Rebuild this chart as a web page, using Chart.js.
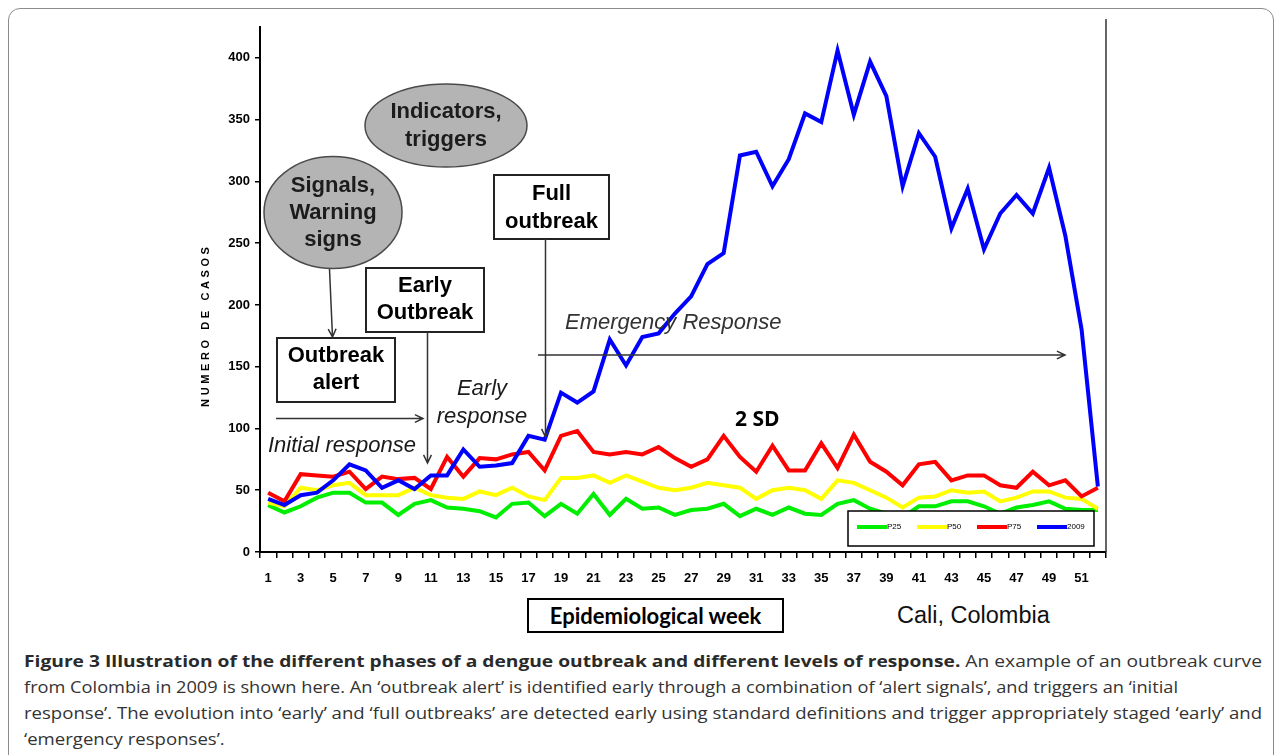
<!DOCTYPE html>
<html>
<head>
<meta charset="utf-8">
<title>Dengue outbreak phases - Cali, Colombia 2009</title>
<script src="https://cdn.jsdelivr.net/npm/chart.js@4.4.0/dist/chart.umd.min.js"></script>
<style>
    html, body { margin: 0; padding: 0; background: #fff; }
    body { width: 1282px; height: 755px; position: relative; overflow: hidden; font-family: 'Liberation Sans', Arial, sans-serif; }
    #frame { position: absolute; left: 8px; top: 8px; width: 1264px; height: 820px; border: 1px solid #8c8c8c; border-radius: 12px; }
    #chart-wrap { position: absolute; left: 0; top: 0; width: 1282px; height: 590px; }
    #x-title { position: absolute; left: 527px; top: 598px; width: 253px; height: 31px; border: 2px solid #000;
               font: bold 22px Lato, sans-serif; text-align: center; line-height: 31px; color: #000; }
    #place { position: absolute; left: 897px; top: 602px; font: 23.5px 'Liberation Sans', Arial, sans-serif; color: #111; }
    #caption { position: absolute; left: 24px; top: 648px; width: 1250px; font: 16.5px 'Open Sans', sans-serif; line-height: 26px; color: #333; }
    #caption .ln { height: 26px; white-space: nowrap; }
    #caption .ln span { display: inline-block; transform-origin: 0 50%; }
    #caption b { color: #2a2a2a; }
</style>
</head>
<body>
<div id="frame"></div>
<div id="chart-wrap"><canvas id="outbreak-chart" width="1282" height="590"></canvas></div>
<div id="x-title">Epidemiological week</div>
<div id="place">Cali, Colombia</div>
<div id="caption">
    <div class="ln"><span><b>Figure 3 Illustration of the different phases of a dengue outbreak and different levels of response.</b> An example of an outbreak curve</span></div>
    <div class="ln"><span>from Colombia in 2009 is shown here. An ‘outbreak alert’ is identified early through a combination of ‘alert signals’, and triggers an ‘initial</span></div>
    <div class="ln"><span>response’. The evolution into ‘early’ and ‘full outbreaks’ are detected early using standard definitions and trigger appropriately staged ‘early’ and</span></div>
    <div class="ln"><span>‘emergency responses’.</span></div>
</div>

<script>
// Semaines épidémiologiques
const weeks = ['1','2','3','4','5','6','7','8','9','10','11','12','13','14','15','16','17','18','19','20',
               '21','22','23','24','25','26','27','28','29','30','31','32','33','34','35','36','37','38','39','40',
               '41','42','43','44','45','46','47','48','49','50','51','52'];

// Canal endémique (percentiles)
const p25 = [38, 32, 37, 44, 48, 48, 40, 40, 30, 39, 42, 36, 35, 33, 28, 39, 40, 29, 39, 31,
             47, 30, 43, 35, 36, 30, 34, 35, 39, 29, 35, 30, 36, 31, 30, 39, 42, 35, 31, 28,
             37, 37, 41, 41, 37, 31, 36, 38, 41, 35, 34, 34];
const p50 = [40, 37, 52, 50, 54, 56, 46, 46, 46, 52, 46, 44, 43, 49, 46, 52, 45, 42, 60, 60,
             62, 56, 62, 57, 52, 50, 52, 56, 54, 52, 43, 50, 52, 50, 43, 58, 56, 50, 44, 36,
             44, 45, 50, 48, 49, 41, 44, 49, 49, 44, 43, 35];
const p75 = [48, 41, 63, 62, 61, 65, 51, 61, 59, 60, 51, 77, 61, 76, 75, 79, 81, 66, 94, 98,
             81, 79, 81, 79, 85, 76, 69, 75, 94, 77, 65, 86, 66, 66, 88, 68, 95, 73, 65, 54,
             71, 73, 58, 62, 62, 54, 52, 65, 54, 58, 45, 52];

// Cas observés en 2009
const cases2009 = [43, 38, 46, 48, 58, 71, 66, 52, 58, 51, 62, 62, 83, 69, 70, 72, 94, 91, 129, 121,
                   130, 172, 151, 174, 177, 193, 207, 233, 242, 321, 324, 296, 318, 355, 348, 406, 354, 397, 369, 296,
                   339, 320, 262, 294, 245, 274, 289, 274, 311, 256, 180, 53];

const yTicks = [0, 50, 100, 150, 200, 250, 300, 350, 400];

const seriesStyle = [
    { label: 'P25', data: p25, color: '#00ee00', order: 3 },
    { label: 'P50', data: p50, color: '#ffff00', order: 2 },
    { label: 'P75', data: p75, color: '#ff0000', order: 1 },
    { label: '2009', data: cases2009, color: '#0000ff', order: 0 }
];

// Largeur voulue de chaque ligne de la légende de figure (null = même échelle que la ligne précédente)
const captionWidths = [1238, 1154, 1238, null];

// Petites fonctions de dessin
function arrow(ctx, x1, y1, x2, y2) {
    const a = Math.atan2(y2 - y1, x2 - x1);
    const h = 9;
    ctx.beginPath();
    ctx.moveTo(x1, y1);
    ctx.lineTo(x2, y2);
    ctx.moveTo(x2 - h * Math.cos(a - 0.45), y2 - h * Math.sin(a - 0.45));
    ctx.lineTo(x2, y2);
    ctx.lineTo(x2 - h * Math.cos(a + 0.45), y2 - h * Math.sin(a + 0.45));
    ctx.stroke();
}

function textLines(ctx, lines, cx, ys) {
    ctx.textAlign = 'center';
    ctx.textBaseline = 'middle';
    lines.forEach((t, i) => ctx.fillText(t, cx, ys[i]));
}

function box(ctx, x1, y1, x2, y2, lines, ys) {
    ctx.fillStyle = '#fff';
    ctx.fillRect(x1, y1, x2 - x1, y2 - y1);
    ctx.strokeStyle = '#222';
    ctx.lineWidth = 2;
    ctx.strokeRect(x1, y1, x2 - x1, y2 - y1);
    ctx.fillStyle = '#000';
    ctx.font = 'bold 22px "Liberation Sans", Arial, sans-serif';
    textLines(ctx, lines, (x1 + x2) / 2, ys);
}

function bubble(ctx, cx, cy, rx, ry, lines, ys) {
    ctx.beginPath();
    ctx.ellipse(cx, cy, rx, ry, 0, 0, Math.PI * 2);
    ctx.fillStyle = '#b4b4b4';
    ctx.fill();
    ctx.strokeStyle = '#4a4a4a';
    ctx.lineWidth = 1.5;
    ctx.stroke();
    ctx.fillStyle = '#1c1c1c';
    ctx.font = 'bold 22px "Liberation Sans", Arial, sans-serif';
    textLines(ctx, lines, cx, ys);
}

function spacedVertical(ctx, text, cx, cy, spacing) {
    ctx.save();
    ctx.translate(cx, cy);
    ctx.rotate(-Math.PI / 2);
    const widths = text.split('').map(c => ctx.measureText(c).width);
    const total = widths.reduce((s, w) => s + w, 0) + spacing * (text.length - 1);
    let x = -total / 2;
    ctx.textAlign = 'left';
    ctx.textBaseline = 'middle';
    text.split('').forEach((c, i) => {
        ctx.fillText(c, x, 0);
        x += widths[i] + spacing;
    });
    ctx.restore();
}

// Annotations des phases + légende encadrée
const phasesPlugin = {
    id: 'phases',
    afterDatasetsDraw(chart) {
        const ctx = chart.ctx;
        const area = chart.chartArea;
        ctx.save();

        // bord droit de la zone de tracé
        ctx.strokeStyle = '#333';
        ctx.lineWidth = 1.5;
        ctx.beginPath();
        ctx.moveTo(area.right, area.top - 8);
        ctx.lineTo(area.right, area.bottom);
        ctx.stroke();

        // titre axe Y
        ctx.fillStyle = '#000';
        ctx.font = 'bold 11px "Liberation Sans", Arial, sans-serif';
        spacedVertical(ctx, 'NUMERO DE CASOS', 206, 327, 3.6);

        // bulles
        bubble(ctx, 446, 125.5, 81, 41.5, ['Indicators,', 'triggers'], [112, 140]);
        bubble(ctx, 333, 212.5, 69, 56, ['Signals,', 'Warning', 'signs'], [186, 213, 240]);

        // boîtes
        box(ctx, 277, 338, 395, 402, ['Outbreak', 'alert'], [356, 383]);
        box(ctx, 366, 268, 484, 332, ['Early', 'Outbreak'], [286, 313]);
        box(ctx, 494, 175, 609, 239, ['Full', 'outbreak'], [194, 222]);

        // flèches
        ctx.strokeStyle = '#333';
        ctx.lineWidth = 1.5;
        arrow(ctx, 329.5, 269, 332.5, 337);
        arrow(ctx, 427.5, 332, 427.5, 463);
        arrow(ctx, 545.5, 239, 545.5, 437);
        arrow(ctx, 276, 418.5, 423, 418.5);
        arrow(ctx, 538, 355, 1065, 355);

        // textes des réponses
        ctx.fillStyle = '#1a1a1a';
        ctx.font = 'italic 22px "Liberation Sans", Arial, sans-serif';
        ctx.textAlign = 'left';
        ctx.textBaseline = 'middle';
        ctx.fillText('Initial response', 268, 446);
        ctx.fillStyle = '#333';
        ctx.fillText('Emergency Response', 565, 323);
        ctx.fillStyle = '#1a1a1a';
        textLines(ctx, ['Early', 'response'], 482, [389, 417]);

        ctx.fillStyle = '#000';
        ctx.font = 'bold 21px "Open Sans", sans-serif';
        ctx.textAlign = 'left';
        ctx.fillText('2 SD', 735, 420);

        // légende
        const lx = 848, ly = 511, lw = 246, lh = 35;
        ctx.fillStyle = '#fff';
        ctx.fillRect(lx, ly, lw, lh);
        ctx.strokeStyle = '#000';
        ctx.lineWidth = 1.5;
        ctx.strokeRect(lx, ly, lw, lh);
        ctx.font = '8px "Liberation Sans", Arial, sans-serif';
        ctx.textBaseline = 'middle';
        ctx.textAlign = 'left';
        chart.data.datasets
            .slice()
            .sort((a, b) => b.order - a.order)
            .forEach((ds, i) => {
                const x0 = 857 + i * 60;
                ctx.strokeStyle = ds.borderColor;
                ctx.lineWidth = 4;
                ctx.beginPath();
                ctx.moveTo(x0, 527);
                ctx.lineTo(x0 + 30, 527);
                ctx.stroke();
                ctx.fillStyle = '#000';
                ctx.fillText(ds.label, x0 + 30, 527);
            });

        ctx.restore();
    }
};

const ctx = document.getElementById('outbreak-chart');

new Chart(ctx, {
    type: 'line',
    data: {
        labels: weeks,
        datasets: seriesStyle.map(s => ({
            label: s.label,
            data: s.data,
            borderColor: s.color,
            backgroundColor: s.color,
            borderWidth: 4,
            pointRadius: 0,
            tension: 0,
            fill: false,
            order: s.order
        }))
    },
    options: {
        responsive: false,
        animation: false,
        layout: {
            padding: { top: 27, right: 176, bottom: 0, left: 0 }
        },
        plugins: {
            legend: { display: false },
            tooltip: { enabled: false }
        },
        scales: {
            x: {
                type: 'category',
                offset: true,
                grid: { offset: true, drawOnChartArea: false, color: '#000', lineWidth: 1.5, tickLength: 6 },
                border: { color: '#000', width: 2 },
                ticks: {
                    autoSkip: false,
                    maxRotation: 0,
                    padding: 13,
                    color: '#000',
                    font: { family: '"Liberation Sans", Arial, sans-serif', size: 13, weight: 'bold' },
                    callback: (v, i) => i % 2 === 0 ? weeks[i] : ''
                },
                afterFit: scale => { scale.height = 38; }
            },
            y: {
                min: 0,
                max: 425,
                grid: { drawOnChartArea: false, color: '#000', lineWidth: 1.5, tickLength: 5 },
                border: { color: '#000', width: 2 },
                ticks: {
                    padding: 5,
                    color: '#000',
                    font: { family: '"Liberation Sans", Arial, sans-serif', size: 13, weight: 'bold' }
                },
                afterBuildTicks: scale => { scale.ticks = yTicks.map(v => ({ value: v })); },
                afterFit: scale => { scale.width = 260; }
            }
        }
    },
    plugins: [phasesPlugin]
});

// Ajuster chaque ligne de la légende de figure à sa largeur
let lastScale = 1;
document.querySelectorAll('#caption .ln span').forEach((span, i) => {
    const w = span.getBoundingClientRect().width;
    if (w > 0 && captionWidths[i]) {
        lastScale = captionWidths[i] / w;
    }
    span.style.transform = 'scaleX(' + lastScale.toFixed(4) + ')';
});
</script>
</body>
</html>
